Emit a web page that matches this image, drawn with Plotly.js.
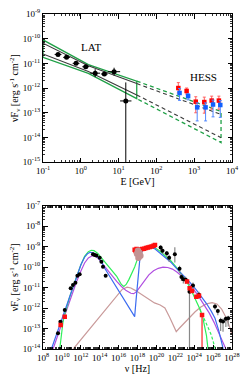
<!DOCTYPE html>
<html><head><meta charset="utf-8">
<script src="https://cdn.plot.ly/plotly-3.0.1.min.js"></script>
<style>html,body{margin:0;padding:0;background:#fff}</style>
</head><body><div id="chart" style="width:247px;height:386px"></div>
<script>
// ---------- TOP PANEL DATA (E in GeV, vF_v in erg s^-1 cm^-2) ----------
const latE    = [0.25, 0.42, 0.75, 1.35, 2.4, 4.2, 7.6];
const latF    = [2.3e-11, 1.75e-11, 1.0e-11, 7.3e-12, 4.0e-12, 3.7e-12, 4.6e-12];
const latEerr = [0.09, 0.09, 0.09, 0.09, 0.13, 0.09, 0.16];   // dex
const latFerr = [0.05, 0.04, 0.05, 0.06, 0.16, 0.05, 0.16];   // dex
const latLimE = [15.5];
const latLimF = [3.0e-13];
const latLimEerr = [0.15];
const latLimFup = [0.75];
const latLimFdn = [4.0];

const hessRedE  = [380, 630, 1100, 1850, 2900, 4500];
const hessRedF  = [1.0e-12, 7.6e-13, 2.8e-13, 2.7e-13, 3.1e-13, 3.1e-13];
const hessRedUp = [0.22, 0.12, 0.2, 0.2, 0.18, 0.18];
const hessRedDn = [0.2, 0.12, 0.45, 0.45, 0.35, 0.35];
const hessBluE  = [410, 690, 1200, 2000, 3150, 4900];
const hessBluF  = [6.3e-13, 4.7e-13, 1.65e-13, 1.65e-13, 2.15e-13, 2.05e-13];
const hessBluUp = [0.18, 0.1, 0.18, 0.18, 0.18, 0.18];
const hessBluDn = [0.3, 0.15, 0.55, 0.55, 0.5, 0.5];

// butterflies (log10 E, log10 F)
const greenBowLogE = [-1, 0.2, 1.48, 1.48, 0.2, -1, -1];
const greenBowLogF = [-10.05, -11.05, -11.72, -12.43, -11.41, -10.76, -10.05];
const blackBowUpLogE = [-1, 0.2, 1.48];
const blackBowUpLogF = [-10.18, -11.1, -11.82];
const blackBowLoLogE = [-1, 0.2, 1.48];
const blackBowLoLogF = [-10.62, -11.33, -12.28];
const greenExtLogE = [1.48, 3.71, 3.71, 1.48];
const greenExtLogF = [-11.72, -12.95, -14.21, -12.43];
const blackExtUpLogE = [1.48, 3.71];
const blackExtUpLogF = [-11.82, -13.07];
const blackExtLoLogE = [1.48, 3.71];
const blackExtLoLogF = [-12.28, -14.01];

// ---------- BOTTOM PANEL DATA (log10 nu [Hz], log10 vF_v) ----------
const blueLogNu = [8.89,9.5,10.0,10.5,11.0,11.5,12.0,12.4,12.7,13.0,13.3,13.6,13.9,14.2,14.53,17.7,17.85,18.0,18.15,18.25,18.4,18.6,19.0,19.4,19.8,20.35,20.9,21.5,22.1,22.8,23.5,24.2,24.8,25.3,25.8,26.2,26.6,26.9,27.1];
const blueLogF  = [-14.0,-13.2,-12.5,-11.8,-11.12,-10.48,-9.9,-9.52,-9.35,-9.28,-9.3,-9.4,-9.55,-9.75,-10.06,-12.42,-11.6,-10.8,-10.0,-9.6,-9.32,-9.15,-9.05,-9.04,-9.1,-9.3,-9.5,-9.75,-10.05,-10.38,-10.72,-11.1,-11.45,-11.78,-12.15,-12.5,-13.1,-13.6,-14.05];
const greenLogNu = [9.77,9.95,10.12,10.3,10.5,10.83,11.2,11.6,12.0,12.4,12.8,13.1,13.4,13.8,14.2,14.6,15.0,15.4,15.8,16.1,16.3,16.55,16.8,17.1,17.4,17.7,18.0,18.3,18.6,19.0,19.4,19.8,20.35,20.9,21.5,22.1,22.7,23.2,23.6,24.0,24.3,24.6,24.9,25.1,25.3,25.46];
const greenLogF  = [-14.0,-13.32,-12.67,-12.3,-11.95,-11.45,-10.95,-10.4,-9.9,-9.48,-9.25,-9.18,-9.2,-9.33,-9.55,-9.8,-10.02,-10.22,-10.45,-10.7,-10.85,-10.95,-10.85,-10.6,-10.3,-10.0,-9.6,-9.3,-9.12,-9.02,-9.0,-9.05,-9.22,-9.42,-9.68,-10.0,-10.35,-10.7,-11.05,-11.45,-11.75,-12.05,-12.45,-12.85,-13.35,-14.0];
const greenDashLogNu = [24.6,24.9,25.2,25.5,25.8,26.05,26.27];
const greenDashLogF  = [-12.05,-12.35,-12.65,-12.95,-13.3,-13.7,-14.05];
const purpleLogNu = [9.06,9.5,10.0,10.5,11.0,11.5,12.0,12.4,12.8,13.2,13.5,13.9,14.3,14.8,15.3,15.8,16.3,16.8,17.3,17.6,17.9,18.3,18.7,19.2,19.7,20.2,20.7,21.2,21.7,22.2,22.7,23.2,23.8,24.4,25.0,25.6,26.1,26.6,27.0,27.4];
const purpleLogF  = [-14.0,-13.4,-12.75,-12.1,-11.42,-10.78,-10.2,-9.8,-9.55,-9.45,-9.46,-9.6,-9.85,-10.15,-10.45,-10.7,-10.95,-11.15,-11.28,-11.3,-11.2,-10.95,-10.65,-10.38,-10.18,-10.06,-10.0,-10.02,-10.1,-10.25,-10.45,-10.68,-11.0,-11.38,-11.8,-12.25,-12.7,-13.2,-13.6,-14.05];
const rosyLogNu = [11.2,12.0,13.0,14.0,15.0,15.8,16.4,16.9,17.3,17.8,18.5,19.2,19.8,20.4,20.9,21.4,21.8,22.1,22.4,23.0,23.5,24.1,24.7,25.3,25.9,26.4,26.9,27.3,27.7,28.0];
const rosyLogF  = [-14.0,-13.55,-12.98,-12.42,-11.85,-11.38,-11.08,-10.98,-11.02,-11.15,-11.35,-11.55,-11.75,-11.85,-12.0,-12.45,-12.9,-13.15,-13.0,-12.72,-12.45,-12.18,-11.95,-11.8,-11.74,-11.8,-12.05,-12.4,-12.85,-13.3];

const bkLogNu = [9.59,9.84,10.30,10.93,11.17,11.43,11.64,11.88,13.29,13.47,13.65,14.0,14.18,14.35,14.63,
                 20.45,20.65,21.1,21.35,21.95,22.45,22.65,22.85,23.1,23.5,23.87,24.5,26.2,26.5,26.8,27.05,27.35,27.6];
const bkLogF  = [-13.23,-12.67,-12.10,-11.04,-10.87,-10.76,-10.42,-10.35,-9.37,-9.41,-9.44,-9.54,-9.74,-9.98,-10.42,
                 -9.05,-9.2,-9.33,-9.55,-9.38,-10.08,-10.48,-10.6,-10.62,-11.2,-10.9,-11.35,-11.93,-12.15,-12.62,-12.66,-12.52,-12.5];
const bkErrUp = [0.05,0.05,0.05,0.05,0.05,0.05,0.05,0.05,0.05,0.05,0.05,0.05,0.05,0.05,0.05,
                 0.12,0.12,0.12,0.15,0.35,0.15,0.15,0.15,0.15,0.15,0.15,0.15,0.12,0.12,0.15,0.15,0.12,0.12];
const bkErrDn = [0.05,0.05,0.05,0.05,0.05,0.05,0.05,0.05,0.05,0.05,0.05,0.05,0.05,0.05,0.05,
                 0.15,0.15,0.15,0.2,0.4,0.2,0.2,0.2,0.2,3.0,0.2,0.2,0.15,0.2,0.5,0.5,0.4,0.4];
const redLogNu = [9.87,10.30,17.70,17.80,17.90,18.00,18.15,18.3,18.5,18.7,18.9,19.1,19.3,19.5,19.7,19.85,23.24,23.52,23.77,24.23,24.51,24.83];
const redLogF  = [-12.83,-12.42,-9.15,-9.22,-9.12,-9.22,-9.18,-9.14,-9.12,-9.10,-9.07,-9.05,-9.02,-9.0,-8.96,-8.92,-10.71,-11.04,-11.17,-11.45,-11.4,-12.34];
const redErrUp = [0,0,0.08,0.08,0.08,0.08,0.06,0.06,0.06,0.06,0.06,0.06,0.06,0.06,0.06,0.06,0,0,0,0,0,0];
const redErrDn = [0,0,0.1,0.1,0.1,0.1,0.07,0.07,0.07,0.07,0.07,0.07,0.07,0.07,0.07,0.07,0.08,0.08,0.08,0.08,0.08,2.0];
const greyLogNu = [17.95,18.1,18.2,18.3,18.05];
const greyLogF  = [-9.35,-9.55,-9.3,-9.45,-9.2];

// tick labels (decade exponents)
const topXExp = [-1, 0, 1, 2, 3, 4];
const topYExp = [-15, -14, -13, -12, -11, -10, -9];
const botXExp = [8, 10, 12, 14, 16, 18, 20, 22, 24, 26, 28];
const botYExp = [-14, -13, -12, -11, -10, -9, -8, -7];

// ---------- helpers ----------
const p10 = a => a.map(v => Math.pow(10, v));
const plusE = (v, d) => v.map((x, i) => x * (Math.pow(10, d[i]) - 1));
const minusE = (v, d) => v.map((x, i) => x * (1 - Math.pow(10, -d[i])));
const lbl = a => a.map(e => '10<sup>' + e + '</sup>');
function minorVals(lo, hi, step) {
  const out = [];
  for (let e = lo; e < hi; e++) {
    for (let m = 2; m <= 9; m++) out.push(m * Math.pow(10, e));
    if (step === 2 && (e - lo) % 2 === 1) out.push(Math.pow(10, e));
  }
  return out;
}

const SERIF = 'Liberation Serif, Times New Roman, serif';
const traces = [];
function line(xl, yl, color, dash, ax, width) {
  traces.push({x: p10(xl), y: p10(yl), mode: 'lines', type: 'scatter', xaxis: ax[0], yaxis: ax[1],
    line: {color: color, width: width || 1.2, dash: dash || 'solid'}, hoverinfo: 'skip', showlegend: false});
}
const T = ['x', 'y'], B = ['x2', 'y2'];
// top butterflies
line(greenBowLogE, greenBowLogF, '#1fa046', 'solid', T, 1.3);
line(blackBowUpLogE, blackBowUpLogF, '#3a3a3a', 'solid', T, 1.1);
line(blackBowLoLogE, blackBowLoLogF, '#3a3a3a', 'solid', T, 1.1);
line(greenExtLogE, greenExtLogF, '#1fa046', '4px,3px', T, 1.3);
line(blackExtUpLogE, blackExtUpLogF, '#3a3a3a', '4px,3px', T, 1.1);
line(blackExtLoLogE, blackExtLoLogF, '#3a3a3a', '4px,3px', T, 1.1);

// LAT points
traces.push({x: latE, y: latF, type: 'scatter', mode: 'markers', xaxis: 'x', yaxis: 'y', showlegend: false,
  marker: {color: '#000', size: 5},
  error_x: {type: 'data', symmetric: false, array: plusE(latE, latEerr), arrayminus: minusE(latE, latEerr), color: '#000', thickness: 1, width: 0},
  error_y: {type: 'data', symmetric: false, array: plusE(latF, latFerr), arrayminus: minusE(latF, latFerr), color: '#000', thickness: 1, width: 0}});
traces.push({x: latLimE, y: latLimF, type: 'scatter', mode: 'markers', xaxis: 'x', yaxis: 'y', showlegend: false,
  marker: {color: '#000', size: 5},
  error_x: {type: 'data', symmetric: false, array: plusE(latLimE, latLimEerr), arrayminus: minusE(latLimE, latLimEerr), color: '#000', thickness: 1, width: 0},
  error_y: {type: 'data', symmetric: false, array: plusE(latLimF, latLimFup), arrayminus: minusE(latLimF, latLimFdn), color: '#000', thickness: 1, width: 0}});
// HESS
traces.push({x: hessRedE, y: hessRedF, type: 'scatter', mode: 'markers', xaxis: 'x', yaxis: 'y', showlegend: false,
  marker: {color: '#ff0000', size: 4.5, symbol: 'square'},
  error_y: {type: 'data', symmetric: false, array: plusE(hessRedF, hessRedUp), arrayminus: minusE(hessRedF, hessRedDn), color: '#ff6060', thickness: 1, width: 1.5}});
traces.push({x: hessBluE, y: hessBluF, type: 'scatter', mode: 'markers', xaxis: 'x', yaxis: 'y', showlegend: false,
  marker: {color: '#1060ff', size: 4.5, symbol: 'square'},
  error_y: {type: 'data', symmetric: false, array: plusE(hessBluF, hessBluUp), arrayminus: minusE(hessBluF, hessBluDn), color: '#5088ff', thickness: 1, width: 1.5}});

// bottom curves
line(rosyLogNu, rosyLogF, '#c99a9a', 'solid', B, 1.2);
line(purpleLogNu, purpleLogF, '#b04ee0', 'solid', B, 1.2);
line(greenLogNu, greenLogF, '#2ef05a', 'solid', B, 1.2);
line(greenDashLogNu, greenDashLogF, '#2ef05a', '3px,2px', B, 1.2);
line(blueLogNu, blueLogF, '#3c6cf0', 'solid', B, 1.2);

const bkNu = p10(bkLogNu), bkF = p10(bkLogF);
traces.push({x: bkNu, y: bkF, type: 'scatter', mode: 'markers', xaxis: 'x2', yaxis: 'y2', showlegend: false,
  marker: {color: '#000', size: 4},
  error_y: {type: 'data', symmetric: false, array: plusE(bkF, bkErrUp), arrayminus: minusE(bkF, bkErrDn), color: '#888', thickness: 1.2, width: 0}});
const rdF = p10(redLogF);
traces.push({x: p10(redLogNu), y: rdF, type: 'scatter', mode: 'markers', xaxis: 'x2', yaxis: 'y2', showlegend: false,
  marker: {color: '#ff1010', size: 4.5, symbol: 'square'},
  error_y: {type: 'data', symmetric: false, array: plusE(rdF, redErrUp), arrayminus: minusE(rdF, redErrDn), color: '#ff5050', thickness: 1.5, width: 0}});
traces.push({x: p10(greyLogNu), y: p10(greyLogF), type: 'scatter', mode: 'markers', xaxis: 'x2', yaxis: 'y2', showlegend: false,
  marker: {color: '#c29292', size: 6.5}});

const tickfont = {family: SERIF, size: 9, color: '#000'};
function axis(exps, minorStep, extra) {
  const lo = exps[0], hi = exps[exps.length - 1];
  return Object.assign({type: 'log', showline: true, linecolor: '#000', linewidth: 1, mirror: 'allticks',
    ticks: 'inside', ticklen: 4.5, tickwidth: 1, tickcolor: '#000', showgrid: false, zeroline: false,
    tickmode: 'array', tickvals: p10(exps), ticktext: lbl(exps), tickfont: tickfont,
    range: [lo, hi],
    minor: {ticks: 'inside', ticklen: 2.2, tickcolor: '#000', tickwidth: 0.8, showgrid: false,
      tickmode: 'array', tickvals: minorVals(lo, hi, minorStep)}}, extra);
}
const titleFont = {family: SERIF, size: 10, color: '#000'};
const yTitle = 'νF<sub>ν</sub> [erg s<sup>-1</sup> cm<sup>-2</sup>]';

const layout = {
  width: 247, height: 386, margin: {l: 43, r: 15, t: 14, b: 37},
  paper_bgcolor: '#fff', plot_bgcolor: '#fff', showlegend: false,
  xaxis: axis(topXExp, 1, {domain: [0, 1], anchor: 'y', title: {text: 'E [GeV]', font: titleFont, standoff: 1}}),
  yaxis: axis(topYExp, 1, {domain: [0.558, 1], anchor: 'x', title: {text: yTitle, font: titleFont, standoff: 2}}),
  xaxis2: axis(botXExp, 2, {domain: [0, 1], anchor: 'y2', title: {text: 'ν [Hz]', font: titleFont, standoff: 1}}),
  yaxis2: axis(botYExp, 1, {domain: [0, 0.428], anchor: 'x2', title: {text: yTitle, font: titleFont, standoff: 2}}),
  annotations: [
    {xref: 'x', yref: 'y', x: 0.262, y: -10.33, text: 'LAT', showarrow: false, font: {family: SERIF, size: 11, color: '#000'}},
    {xref: 'x', yref: 'y', x: 3.233, y: -11.55, text: 'HESS', showarrow: false, font: {family: SERIF, size: 11, color: '#000'}}
  ]
};
Plotly.newPlot('chart', traces, layout, {staticPlot: true, displayModeBar: false});
</script></body></html>
